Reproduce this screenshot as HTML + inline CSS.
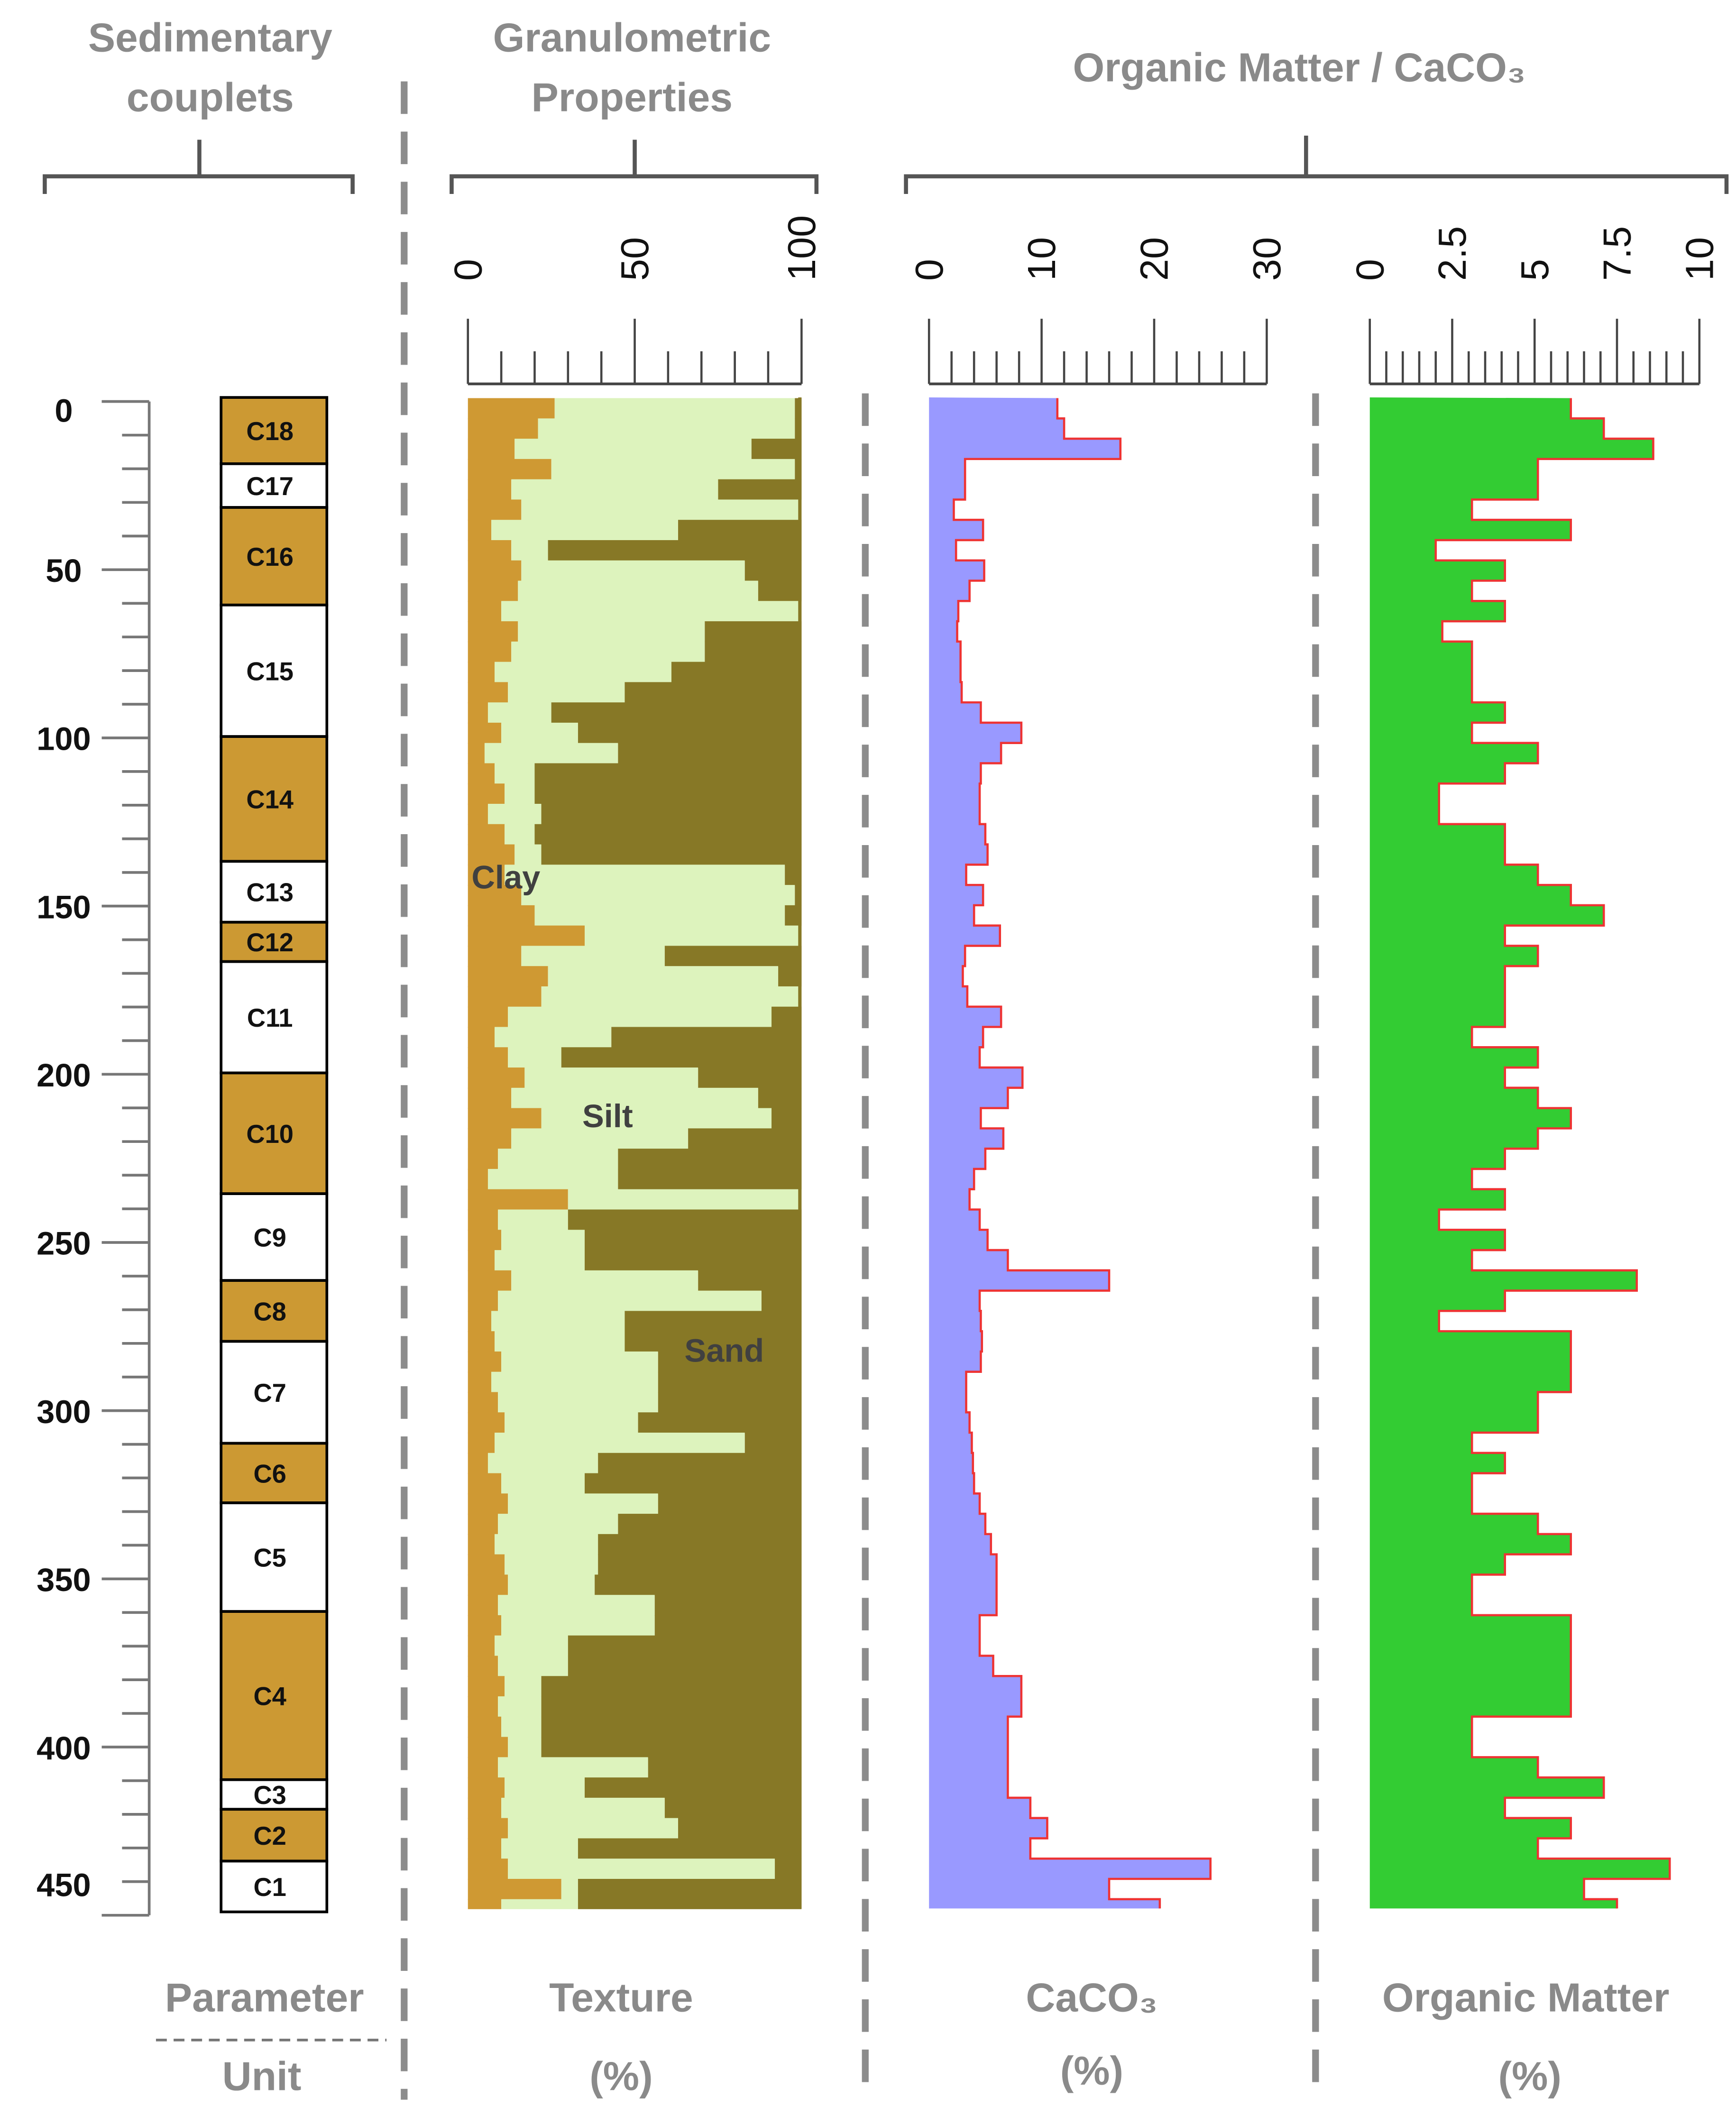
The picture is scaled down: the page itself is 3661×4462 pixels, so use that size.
<!DOCTYPE html>
<html><head><meta charset="utf-8"><style>
html,body{margin:0;padding:0;background:#fff;}
svg{display:block;}
text{font-family:"Liberation Sans",sans-serif;}
</style></head>
<body>
<svg id="chart" width="3661" height="4462" viewBox="0 0 1280 1560" preserveAspectRatio="none" xmlns="http://www.w3.org/2000/svg">
<g fill="#8a8a8a" font-weight="bold" font-size="30" text-anchor="middle">
<text x="155" y="38">Sedimentary</text>
<text x="155" y="82">couplets</text>
<text x="466" y="38">Granulometric</text>
<text x="466" y="82">Properties</text>
<text x="958" y="60">Organic Matter / CaCO₃</text>
</g>
<g stroke="#555" stroke-width="3" fill="none">
<path d="M33,143 V130 H260 V143 M147,130 V103"/>
<path d="M333,143 V130 H602 V143 M468,130 V103"/>
<path d="M668,143 V130 H1273 V143 M963,130 V100"/>
</g>
<g stroke="#8c8c8c" stroke-width="5" stroke-dasharray="24,13">
<line x1="298" y1="60" x2="298" y2="1548"/>
<line x1="638" y1="290" x2="638" y2="1548"/>
<line x1="970" y1="290" x2="970" y2="1548"/>
</g>
<g id="depthAxis"></g>
<g id="couplets"></g>
<g id="texture"></g>
<g id="caco3"></g>
<g id="om"></g>
<g fill="#404040" font-weight="bold" font-size="24" text-anchor="middle">
<text x="373" y="655">Clay</text>
<text x="448" y="831">Silt</text>
<text x="534" y="1004">Sand</text>
</g>
<g fill="#8a8a8a" font-weight="bold" font-size="30" text-anchor="middle">
<text x="195" y="1483">Parameter</text>
<line x1="115" y1="1504" x2="285" y2="1504" stroke="#777" stroke-width="2" stroke-dasharray="8,5"/>
<text x="193" y="1541">Unit</text>
<text x="458" y="1483">Texture</text>
<text x="458" y="1541">(%)</text>
<text x="805" y="1483">CaCO₃</text>
<text x="805" y="1537">(%)</text>
<text x="1125" y="1483">Organic Matter</text>
<text x="1128" y="1541">(%)</text>
</g>
</svg>
<script>
// ---- data ----
const depthTicks = [0,50,100,150,200,250,300,350,400,450];
const coupletNames = ["C18","C17","C16","C15","C14","C13","C12","C11","C10","C9","C8","C7","C6","C5","C4","C3","C2","C1"];
const coupletTops = [-1.2,18.5,31.5,60.5,99.6,136.7,154.8,166.5,199.6,235.5,261.3,279.4,309.7,327.4,359.7,409.7,418.5,433.9];
const coupletBottom = 449;
const coupletShaded = [1,0,1,0,1,0,1,0,1,0,1,0,1,0,1,0,1,0];
const sampleStep = 6.03;
const clayPct = [26,21,14,25,13,16,7,13,16,15,10,15,13,8,12,6,10,5,8,11,6,11,14,11,16,20,35,16,24,22,12,8,12,17,13,22,13,9,6,30,9,10,8,13,9,7,8,10,7,9,11,8,6,10,12,9,8,11,12,9,10,8,9,11,9,10,12,9,11,10,12,10,12,28,10];
const claySiltPct = [98,98,85,98,75,100,63,24,83,87,100,71,71,61,47,25,33,45,20,20,22,20,22,95,98,95,100,59,93,100,91,43,28,69,87,91,66,45,45,100,30,35,35,69,88,47,47,57,57,57,51,83,39,35,57,45,39,39,38,56,56,30,30,22,22,22,22,54,35,59,63,33,92,33,33];
const caco3Vals = [11.4,12,17,3.2,3.2,2.2,4.8,2.4,4.9,3.6,2.6,2.5,2.8,2.8,2.9,4.6,8.2,6.4,4.6,4.5,4.5,5.0,5.2,3.3,4.8,4.0,6.3,3.2,3.0,3.4,6.4,4.8,4.5,8.3,7.0,4.6,6.6,5.0,4.0,3.6,4.5,5.2,7.0,16,4.5,4.6,4.7,4.6,3.3,3.3,3.6,3.8,3.9,4.0,4.5,5.0,5.5,6.0,6.0,6.0,4.5,4.5,5.7,8.2,8.2,7.0,7.0,7.0,7.0,9.0,10.5,9.0,25,16,20.5];
const omVals = [6.1,7.1,8.6,5.1,5.1,3.1,6.1,2.0,4.1,3.1,4.1,2.2,3.1,3.1,3.1,4.1,3.1,5.1,4.1,2.1,2.1,4.1,4.1,5.1,6.1,7.1,4.1,5.1,4.1,4.1,4.1,3.1,5.1,4.1,5.1,6.1,5.1,4.1,3.1,4.1,2.1,4.1,3.1,8.1,4.1,2.1,6.1,6.1,6.1,5.1,5.1,3.1,4.1,3.1,3.1,5.1,6.1,4.1,3.1,3.1,6.1,6.1,6.1,6.1,6.1,3.1,3.1,5.1,7.1,4.1,6.1,5.1,9.1,6.5,7.5];
const textureTicks = [0,50,100];
const caco3Ticks = [0,10,20,30];
const omTicks = ["0","2.5","5","7.5","10"];

// ---- scales ----
const NS="http://www.w3.org/2000/svg";
const yD = d => 296 + 2.48*d;
const colTop = 293, colBot = 1407;
const xTex = p => 345 + p*2.46;
const xCa = v => 685 + v*(249/30);
const xOm = v => 1010 + v*(243/10);
function mk(tag, attrs, parent){const e=document.createElementNS(NS,tag);for(const k in attrs)e.setAttribute(k,attrs[k]);parent.appendChild(e);return e;}
function binTop(i){return Math.max(colTop, yD(-1 + i*sampleStep));}
function binBot(i){return Math.min(colBot, yD(-1 + (i+1)*sampleStep));}

// depth axis
const da=document.getElementById('depthAxis');
let ax=mk('line',{x1:110,y1:296,x2:110,y2:yD(450),stroke:'#777','stroke-width':2},da);


for(let d=0; d<=450; d+=10){
  const major = d%50===0;
  const t=mk('line',{x1:major?75:90,y1:yD(d),x2:110,y2:yD(d),stroke:'#777','stroke-width':2},da);
  
  
}
depthTicks.forEach(d=>{
  const t=mk('text',{x:47,y:(d===450?1398:(d===0?311:yD(d)+9)),'text-anchor':'middle','font-size':24,'font-weight':'bold',fill:'#111'},da);
  t.textContent=d;
  
  
});

// couplets
const cg=document.getElementById('couplets');
coupletNames.forEach((n,i)=>{
  const top = yD(coupletTops[i]);
  const bot = yD(i+1<coupletTops.length ? coupletTops[i+1] : coupletBottom);
  const r=mk('rect',{x:163,y:top,width:78,height:bot-top,fill:coupletShaded[i]?'#cc9933':'#fff',stroke:'#000','stroke-width':2},cg);
  
  
  const t=mk('text',{x:199,y:(top+bot)/2+7,'text-anchor':'middle','font-size':19,'font-weight':'bold',fill:'#111'},cg);
  t.textContent=n;
  
  
});

// axis builder
function axis(g, x0, x1, nMinor, majorEvery, labels, labelXs, name){
  const base=mk('line',{x1:x0,y1:283,x2:x1,y2:283,stroke:'#444','stroke-width':2},g);
  
  
  for(let i=0;i<=nMinor;i++){
    const x=x0+(x1-x0)*i/nMinor;
    const major = i%majorEvery===0;
    const t=mk('line',{x1:x,y1:major?235:259,x2:x,y2:283,stroke:'#444','stroke-width':1.6},g);
    
    
  }
  labels.forEach((lb,i)=>{
    const x=labelXs[i];
    const t=mk('text',{x:0,y:0,transform:`translate(${x+10},207) rotate(-90)`,'font-size':29,fill:'#111'},g);
    t.textContent=lb;
    
    
  });
}

// texture
const tg=document.getElementById('texture');
axis(tg,345,591,10,5,textureTicks,textureTicks.map(xTex),'texture');
clayPct.forEach((c,i)=>{
  const y0=binTop(i), y1=binBot(i); if(y1<=y0) return;
  const cs=Math.max(claySiltPct[i],c);
  let r=mk('rect',{x:xTex(0),y:y0,width:xTex(c)-xTex(0),height:y1-y0+0.5,fill:'#cf9933'},tg);
  
  
  r=mk('rect',{x:xTex(c),y:y0,width:xTex(cs)-xTex(c),height:y1-y0+0.5,fill:'#ddf3bd'},tg);
  
  
  r=mk('rect',{x:xTex(cs),y:y0,width:Math.max(xTex(100)-xTex(cs),0),height:y1-y0+0.5,fill:'#877826'},tg);
  
  
});
let edge=mk('rect',{x:xTex(99),y:colTop,width:xTex(100)-xTex(99),height:colBot-colTop,fill:'#877826'},tg);



// step profile
function profile(g, vals, xf, fill, name){
  let d=`M${xf(0)},${colTop}`;
  vals.forEach((v,i)=>{const y0=binTop(i),y1=binBot(i); if(y1<=y0)return; d+=` L${xf(v)},${y0} L${xf(v)},${y1}`;});
  const area=mk('path',{d:d+` L${xf(0)},${colBot} Z`,fill:fill},g);
  
  
  let l='';
  vals.forEach((v,i)=>{const y0=binTop(i),y1=binBot(i); if(y1<=y0)return; l+=(l?' L':'M')+`${xf(v)},${y0} L${xf(v)},${y1}`;});
  const line=mk('path',{d:l,fill:'none',stroke:'#ee3333','stroke-width':1.6},g);
  
  
}
const ca=document.getElementById('caco3');
axis(ca,685,934,15,5,caco3Ticks,caco3Ticks.map(xCa),'caco3');
profile(ca,caco3Vals,xCa,'#9999ff','caco3');
const om=document.getElementById('om');
axis(om,1010,1253,20,5,omTicks,omTicks.map(s=>xOm(parseFloat(s))),'om');
profile(om,omVals,xOm,'#33cc33','om');
</script>
</body></html>
